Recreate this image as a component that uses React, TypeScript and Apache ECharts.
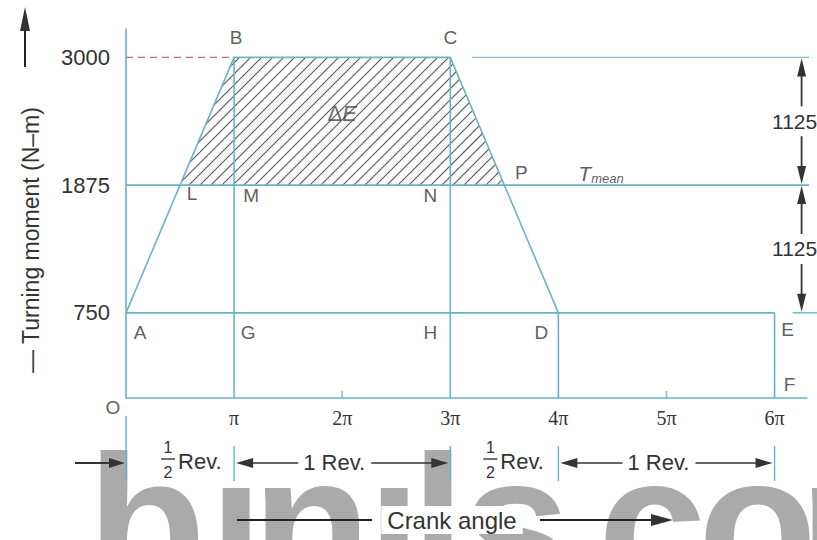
import React, { useEffect, useRef } from 'react';
import * as echarts from 'echarts';

// ---------------- data (crank angle in multiples of π, torque in N·m) ----------------
const curveAngle = [0, 1, 3, 4];
const curveTorque = [750, 3000, 3000, 750];
const T_MIN = 750;
const T_MEAN = 1875;
const T_MAX = 3000;
const CYCLE_END = 6;
const excessAngle = [0.5, 1, 3, 3.5];
const excessTorque = [1875, 3000, 3000, 1875];
const dropAngle = [1, 3, 4, 6];
const dropTorque = [3000, 3000, 750, 750];
const yTickValues = [750, 1875, 3000];
const xTickLabels = ['', 'π', '2π', '3π', '4π', '5π', '6π'];
const minorTickAngle = [2, 5];
const revMarks = [0, 1, 3, 4, 6];
const pointNames = ['O', 'A', 'B', 'C', 'D', 'E', 'F', 'G', 'H', 'L', 'M', 'N', 'P'];
const pointAngle = [0, 0, 1, 3, 4, 6, 6, 1, 3, 0.5, 1, 3, 3.5];
const pointTorque = [0, 750, 3000, 3000, 750, 750, 0, 750, 750, 1875, 1875, 1875, 1875];
const deltaELabelAt = [2, 2510];

// ---------------- styling ----------------
const TEAL = '#6ab3c7';
const INK = '#333';
const FONT = 'Liberation Sans';
const LINE_EXT = 6.4; // lines run to the right edge
const TOP_EXT_START = 3.2;
const DIM_AT = 6.25;
const pointOffsets: Record<string, number[]> = {
  O: [-13, 9], A: [14, 20], B: [2, -20], C: [0, -20], D: [-17, 20], E: [13, 17], F: [15, -14],
  G: [14, 20], H: [-20, 20], L: [12, 8], M: [17, 10], N: [-20, 10], P: [17, -13],
};

function hatchRender(params: any, api: any) {
  const pts = excessAngle.map((x, i) => api.coord([x, excessTorque[i]]));
  const sums = pts.map((p: number[]) => p[0] + p[1]);
  const minS = Math.min(...sums);
  const maxS = Math.max(...sums);
  const step = 11;
  const children: any[] = [];
  for (let c = Math.ceil(minS / step) * step; c < maxS; c += step) {
    const hits: number[][] = [];
    for (let i = 0; i < pts.length; i++) {
      const a = pts[i];
      const b = pts[(i + 1) % pts.length];
      const fa = a[0] + a[1] - c;
      const fb = b[0] + b[1] - c;
      if ((fa <= 0 && fb > 0) || (fa > 0 && fb <= 0)) {
        const t = fa / (fa - fb);
        hits.push([a[0] + t * (b[0] - a[0]), a[1] + t * (b[1] - a[1])]);
      }
    }
    if (hits.length >= 2) {
      hits.sort((p, q) => p[0] - q[0]);
      const h0 = hits[0];
      const h1 = hits[hits.length - 1];
      children.push({
        type: 'line',
        shape: { x1: h0[0], y1: h0[1], x2: h1[0], y2: h1[1] },
        style: { stroke: '#555', lineWidth: 1.1 },
      });
    }
  }
  return { type: 'group', children };
}

function lineS(data: number[][], extra: any = {}) {
  return {
    type: 'line',
    data,
    symbol: 'none',
    silent: true,
    clip: false,
    z: 3,
    lineStyle: { color: TEAL, width: 1.6 },
    ...extra,
  };
}

function buildOption(): any {
  return {
    animation: false,
    backgroundColor: '#fff',
    textStyle: { fontFamily: FONT },
    grid: { left: 126, top: 29, right: 10, bottom: 142 },
    xAxis: {
      type: 'value',
      min: 0,
      max: 6.3,
      interval: 1,
      axisLine: { show: true, lineStyle: { color: TEAL, width: 1.6 } },
      axisTick: { show: false },
      splitLine: { show: false },
      axisLabel: {
        margin: 10,
        color: INK,
        fontSize: 20,
        fontFamily: 'Liberation Serif',
        formatter: (v: number) => (Number.isInteger(v) ? xTickLabels[v] || '' : ''),
      },
    },
    yAxis: {
      type: 'value',
      min: 0,
      max: 3250,
      interval: 375,
      axisLine: { show: true, lineStyle: { color: TEAL, width: 1.6 } },
      axisTick: { show: false },
      splitLine: { show: false },
      axisLabel: {
        margin: 16,
        color: INK,
        fontSize: 22,
        formatter: (v: number) => (yTickValues.includes(v) ? String(v) : ''),
      },
    },
    series: [
      {
        type: 'custom',
        renderItem: hatchRender,
        data: [[excessAngle[0], excessTorque[0]]],
        silent: true,
        clip: false,
        z: 2,
      },
      lineS(curveAngle.map((x, i) => [x, curveTorque[i]])),
      lineS([[0, T_MIN], [CYCLE_END, T_MIN]]),
      lineS([[0, T_MEAN], [LINE_EXT, T_MEAN]]),
      lineS([[TOP_EXT_START, T_MAX], [LINE_EXT, T_MAX]], { lineStyle: { color: '#8ebfcf', width: 1.4 } }),
      ...dropAngle.map((x, i) => lineS([[x, 0], [x, dropTorque[i]]])),
      lineS([[0, T_MAX], [curveAngle[1], T_MAX]], {
        lineStyle: { color: '#d4607c', width: 1.4, type: [7, 5] },
      }),
      {
        type: 'scatter',
        silent: true,
        z: 4,
        symbol: 'rect',
        symbolSize: [1.6, 7],
        symbolOffset: [0, -3.5],
        itemStyle: { color: TEAL },
        data: minorTickAngle.map((x) => [x, 0]),
      },
      {
        type: 'scatter',
        silent: true,
        clip: false,
        z: 5,
        symbolSize: 1,
        itemStyle: { color: 'rgba(0,0,0,0)' },
        label: {
          show: true,
          position: 'inside',
          formatter: '{b}',
          color: INK,
          fontSize: 19,
          fontFamily: FONT,
        },
        data: pointNames.map((n, i) => ({
          name: n,
          value: [pointAngle[i], pointTorque[i]],
          label: { offset: pointOffsets[n] },
        })),
      },
      {
        type: 'scatter',
        silent: true,
        clip: false,
        z: 5,
        symbolSize: 1,
        itemStyle: { color: 'rgba(0,0,0,0)' },
        label: {
          show: true,
          position: 'inside',
          color: '#444',
          rich: {
            d: { fontSize: 22, fontFamily: FONT, color: '#444' },
            e: { fontSize: 22, fontFamily: FONT, fontStyle: 'italic', color: '#444' },
            t: { fontSize: 21, fontFamily: FONT, fontStyle: 'italic', lineHeight: 24, color: '#333' },
            s: { fontSize: 13, fontFamily: FONT, fontStyle: 'italic', lineHeight: 13, verticalAlign: 'bottom', color: '#333' },
          },
        },
        data: [
          { value: deltaELabelAt, label: { formatter: '{d|Δ}{e|E}' } },
          {
            value: [excessAngle[3], T_MEAN],
            label: { formatter: '{t|T}{s|mean}', align: 'left', offset: [74, -12] },
          },
        ],
      },
    ],
  };
}

function buildGraphic(P: (x: number, y: number) => number[]) {
  const g: any[] = [];
  const seg = (x1: number, y1: number, x2: number, y2: number, color = INK, w = 1.6) => ({
    type: 'line',
    shape: { x1, y1, x2, y2 },
    style: { stroke: color, lineWidth: w },
  });
  const head = (tx: number, ty: number, dx: number, dy: number, len = 16, hw = 4.5) => ({
    type: 'polygon',
    shape: {
      points: [
        [tx, ty],
        [tx - dx * len - dy * hw, ty - dy * len + dx * hw],
        [tx - dx * len + dy * hw, ty - dy * len - dx * hw],
      ],
    },
    style: { fill: INK },
  });
  const txt = (x: number, y: number, text: string, extra: any = {}) => ({
    type: 'text',
    x,
    y,
    style: {
      text,
      fill: INK,
      fontSize: 22,
      fontFamily: FONT,
      align: 'center',
      verticalAlign: 'middle',
      ...extra,
    },
  });

  // watermark
  const wmLetters = ['b', 'ı', 'n', 'ı', 'l', 's', 'c', 'o', 'm'];
  const wmX = [87, 209, 252, 367, 411, 462, 598, 698, 799];
  wmLetters.forEach((ch, i) => {
    g.push({
      type: 'text',
      x: wmX[i],
      y: 523,
      z: -1,
      silent: true,
      style: {
        text: ch,
        fill: '#aaaaaa',
        fontSize: 195,
        fontWeight: 'bold',
        fontFamily: FONT,
        align: 'left',
        verticalAlign: 'middle',
      },
    });
  });

  // y-axis title with arrow
  g.push(seg(25, 28, 25, 67, '#222', 2));
  g.push(head(25, 7, 0, -1, 24, 5));
  g.push({
    type: 'text',
    x: 31,
    y: 240,
    rotation: Math.PI / 2,
    style: {
      text: '— Turning moment (N–m)',
      fill: INK,
      fontSize: 23,
      fontFamily: FONT,
      align: 'center',
      verticalAlign: 'middle',
    },
  });

  // 1125 dimension arrows
  const dx = P(DIM_AT, 0)[0];
  const yTop = P(0, T_MAX)[1];
  const yMid = P(0, T_MEAN)[1];
  const yBot = P(0, T_MIN)[1];
  const dimText = String(T_MAX - T_MEAN);
  [[yTop, yMid], [yMid, yBot]].forEach(([a, b]) => {
    const m = (a + b) / 2;
    g.push(head(dx, a + 1, 0, -1, 18, 4.5));
    g.push(seg(dx, a + 12, dx, m - 15, INK, 1.8));
    g.push(txt(dx - 7, m, dimText, { fontSize: 21 }));
    g.push(seg(dx, m + 15, dx, b - 12, INK, 1.8));
    g.push(head(dx, b - 1, 0, 1, 18, 4.5));
  });
  g.push(seg(dx - 9, yBot, 817, yBot, TEAL, 1.4));

  // dimension row below the axis
  const bx = revMarks.map((v) => P(v, 0)[0]);
  const rowY = 463;
  bx.forEach((x, i) => g.push(seg(x, i === 0 ? 416 : 446, x, 481, TEAL, 1.4)));
  g.push(seg(75, rowY, bx[0] - 12, rowY, INK, 1.8));
  g.push(head(bx[0] - 1, rowY, 1, 0, 16, 5));

  const halfRev = (c: number) => {
    g.push(txt(c - 22, rowY - 16, '1', { fontSize: 16, lineHeight: 16 }));
    g.push(seg(c - 29, rowY - 4, c - 15, rowY - 4, INK, 1.4));
    g.push(txt(c - 22, rowY + 9, '2', { fontSize: 16, lineHeight: 16 }));
    g.push(txt(c - 12, rowY - 2, 'Rev.', { align: 'left' }));
  };
  const oneRev = (x1: number, x2: number) => {
    const c = (x1 + x2) / 2 - 8;
    const hw = 33;
    g.push(head(x1 + 2, rowY, -1, 0, 17, 5));
    g.push(seg(x1 + 14, rowY, c - hw - 3, rowY));
    g.push(txt(c, rowY - 1, '1 Rev.'));
    g.push(seg(c + hw + 4, rowY, x2 - 14, rowY));
    g.push(head(x2 - 2, rowY, 1, 0, 17, 5));
  };
  halfRev((bx[0] + bx[1]) / 2 + 10);
  oneRev(bx[1], bx[2]);
  halfRev((bx[2] + bx[3]) / 2 + 8);
  oneRev(bx[3], bx[4]);

  // crank angle row
  const cy = 520;
  g.push(seg(237, cy, 372, cy, '#222', 2));
  g.push(txt(452, cy, 'Crank angle', { fontSize: 24, backgroundColor: '#fff', padding: [2, 6, 2, 6] }));
  g.push(seg(540, cy, 658, cy, '#222', 2));
  g.push(head(673, cy, 1, 0, 22, 6));

  return g;
}

export default function App() {
  const ref = useRef<HTMLDivElement>(null);
  useEffect(() => {
    const el = ref.current;
    if (!el) return;
    const chart = echarts.init(el, undefined, { renderer: 'svg', width: 817, height: 540 });
    chart.setOption(buildOption());
    const P = (x: number, y: number) => chart.convertToPixel({ gridIndex: 0 }, [x, y]) as number[];
    chart.setOption({ graphic: { elements: buildGraphic(P) } });
    return () => chart.dispose();
  }, []);
  return (
    <div
      ref={ref}
      style={{ position: 'fixed', left: 0, top: 0, width: 817, height: 540, background: '#fff' }}
    />
  );
}
